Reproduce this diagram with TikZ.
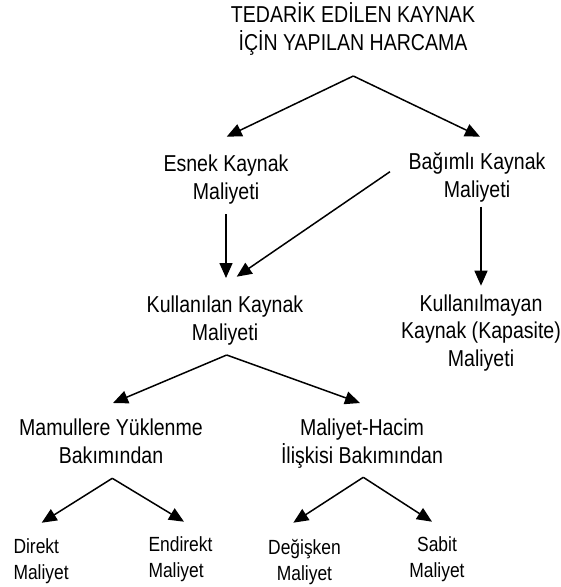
\documentclass[tikz,border=0pt]{standalone}
\usepackage{fontspec}
\setmainfont{Liberation Sans}[FakeStretch=0.85]
\usetikzlibrary{arrows.meta}
\tikzset{
  lbl/.style={align=center, inner sep=0pt, anchor=base, font=\fontsize{23}{27.8}\selectfont},
  lblsmall/.style={inner sep=0pt, anchor=base, font=\fontsize{20.5}{26}\selectfont},
  conn/.style={line width=1.5pt, -{Triangle[length=15pt,width=13pt]}}
}
\begin{document}
\begin{tikzpicture}[x=1pt,y=-1pt]
\useasboundingbox (0,0) rectangle (561,587);
% text nodes (anchored at the baseline of the last line)
\node[lbl] (title) at (353,50.7) {TEDARİK EDİLEN KAYNAK\\İÇİN YAPILAN HARCAMA};
\node[lbl] (esnek) at (226,199.3) {Esnek Kaynak\\Maliyeti};
\node[lbl] (bagimli) at (477,197.3) {Bağımlı Kaynak\\Maliyeti};
\node[lbl] (kullanilan) at (225,340) {Kullanılan Kaynak\\Maliyeti};
\node[lbl] (kullanilmayan) at (481,366.7) {Kullanılmayan\\Kaynak (Kapasite)\\Maliyeti};
\node[lbl] (mamul) at (111,463.3) {Mamullere Yüklenme\\Bakımından};
\node[lbl] (hacim) at (362,463.3) {Maliyet-Hacim\\İlişkisi Bakımından};
\node[lblsmall, anchor=base west, align=left] (direkt) at (13.3,579) {Direkt\\Maliyet};
\node[lblsmall, anchor=base west, align=left] (endirekt) at (148.3,577.3) {Endirekt\\Maliyet};
\node[lblsmall, align=center] (degisken) at (304.5,580) {Değişken\\Maliyet};
\node[lblsmall, align=center] (sabit) at (437,577.3) {Sabit\\Maliyet};
% connector points
\coordinate (tA) at (353.3,76);
\coordinate (tL) at (226.7,136.7);
\coordinate (tR) at (480,136.7);
\coordinate (eS) at (226,214);
\coordinate (eT) at (226,278);
\coordinate (bD) at (390,171.7);
\coordinate (bDT) at (236.7,276.7);
\coordinate (bS) at (481,206.7);
\coordinate (bT) at (481,285.7);
\coordinate (kA) at (226.7,355);
\coordinate (kL) at (113,403);
\coordinate (kR) at (360,403);
\coordinate (mA) at (112.3,478.3);
\coordinate (mL) at (41.7,522.7);
\coordinate (mR) at (184,521.7);
\coordinate (hA) at (363.3,477.3);
\coordinate (hL) at (293.3,522.7);
\coordinate (hR) at (432,521.7);
% connectors
\draw[conn] (tA) -- (tL);
\draw[conn] (tA) -- (tR);
\draw[conn] (eS) -- (eT);
\draw[conn] (bD) -- (bDT);
\draw[conn] (bS) -- (bT);
\draw[conn] (kA) -- (kL);
\draw[conn] (kA) -- (kR);
\draw[conn] (mA) -- (mL);
\draw[conn] (mA) -- (mR);
\draw[conn] (hA) -- (hL);
\draw[conn] (hA) -- (hR);
\end{tikzpicture}
\end{document}
